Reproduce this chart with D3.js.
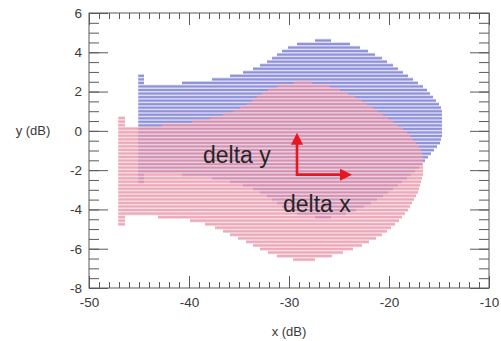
<!DOCTYPE html>
<html>
<head>
<meta charset="utf-8">
<script src="https://cdn.jsdelivr.net/npm/d3@7/dist/d3.min.js"></script>
<style>
  body { margin: 0; background: #fff; }
  svg { display: block; font-family: "Liberation Sans", Arial, Helvetica, sans-serif; }
</style>
</head>
<body>
<svg id="chart" width="501" height="341"></svg>
<script>
// Axis ranges and labelled ticks
const xDomain = [-50, -10];
const yDomain = [-8, 6];
const xMajorTicks = [-50, -40, -30, -20, -10];
const yMajorTicks = [-8, -6, -4, -2, 0, 2, 4, 6];
const xMinorStep = 1;
const yMinorStep = 0.5;

// Height of one histogram row (dB)
const rowHeight = 0.18;

// Blue distribution: row centre (y, dB) with the x range it covers (dB)
const blueRowY = [4.60, 4.42, 4.24, 4.06, 3.88, 3.70, 3.52, 3.34, 3.16, 2.98, 2.80, 2.62, 2.44,
  2.26, 2.08, 1.90, 1.72, 1.54, 1.36, 1.18, 1.00, 0.82, 0.64, 0.46, 0.28, 0.10, -0.08, -0.26,
  -0.44, -0.62, -0.80, -0.98, -1.16, -1.34, -1.52, -1.70, -1.88, -2.06, -2.24, -2.42, -2.60,
  -2.78, -2.96, -3.14, -3.32, -3.50, -3.68, -3.86, -4.04, -4.22, -4.40];
const blueRowX0 = [-27.4, -29.2, -30.1, -30.7, -31.2, -31.7, -32.2, -32.9, -33.6, -34.6, -35.9, -37.7, -40.7,
  -45.07, -45.07, -45.07, -45.07, -45.07, -45.07, -45.07, -45.07, -45.07, -45.07, -45.07, -45.07, -45.07, -45.07, -45.07,
  -45.07, -45.07, -45.07, -45.07, -45.07, -45.07, -45.07, -45.07, -45.07, -45.07, -40.7, -37.7, -35.9,
  -34.6, -33.6, -32.9, -32.2, -31.7, -31.2, -30.7, -30.1, -29.2, -27.4];
const blueRowX1 = [-25.8, -23.9, -22.9, -22.1, -21.4, -20.7, -20.2, -19.6, -19.1, -18.6, -18.1, -17.6, -17.1,
  -16.6, -16.2, -15.9, -15.6, -15.3, -15.0, -14.8, -14.7, -14.7, -14.7, -14.7, -14.7, -14.7, -14.7, -14.7,
  -14.8, -14.9, -15.2, -15.5, -15.8, -16.1, -16.4, -16.7, -17.0, -17.4, -17.8, -18.2, -18.7,
  -19.1, -19.6, -20.1, -20.6, -21.2, -21.8, -22.5, -23.3, -24.3, -25.8];
// Blue first column, taller than the body
const blueStubY = [2.80, 2.62, 2.44, -2.24, -2.42, -2.60];
const blueStubX = [-45.07, -44.5];

// Red distribution: row centre (y, dB) with the x range it covers (dB)
const redRowY = [2.45, 2.27, 2.09, 1.91, 1.73, 1.55, 1.37, 1.19, 1.01, 0.83, 0.65, 0.47, 0.29,
  0.11, -0.07, -0.25, -0.43, -0.61, -0.79, -0.97, -1.15, -1.33, -1.51, -1.69, -1.87, -2.05, -2.23, -2.41,
  -2.59, -2.77, -2.95, -3.13, -3.31, -3.49, -3.67, -3.85, -4.03, -4.21, -4.39, -4.57, -4.75,
  -4.93, -5.11, -5.29, -5.47, -5.65, -5.83, -6.01, -6.19, -6.37, -6.55];
const redRowX0 = [-29.5, -31.2, -32.1, -32.7, -33.2, -33.7, -34.2, -34.9, -35.6, -36.6, -37.9, -39.7, -42.7,
  -47.07, -47.07, -47.07, -47.07, -47.07, -47.07, -47.07, -47.07, -47.07, -47.07, -47.07, -47.07, -47.07, -47.07, -47.07,
  -47.07, -47.07, -47.07, -47.07, -47.07, -47.07, -47.07, -47.07, -47.07, -47.07, -43.1, -39.9, -38.4,
  -37.4, -36.6, -35.9, -35.1, -34.3, -33.6, -32.9, -32.1, -31.2, -29.6];
const redRowX1 = [-27.7, -25.9, -24.9, -24.1, -23.4, -22.7, -22.2, -21.6, -21.1, -20.6, -20.1, -19.6, -19.1,
  -18.6, -18.2, -17.9, -17.6, -17.3, -17.0, -16.8, -16.7, -16.6, -16.6, -16.6, -16.6, -16.6, -16.6, -16.7,
  -16.8, -16.9, -17.0, -17.1, -17.3, -17.5, -17.7, -17.9, -18.1, -18.4, -18.7, -19.0, -19.4,
  -19.8, -20.2, -20.7, -21.3, -22.0, -22.7, -23.6, -24.6, -25.7, -27.4];
// Red first column, taller than the body
const redStubY = [0.65, 0.47, 0.29, -4.39, -4.57, -4.75];
const redStubX = [-47.07, -46.4];

// Shift arrows: common corner, then the tips of the delta y and delta x arrows
const arrowCorner = [-29.2, -2.23];
const deltaYTip = -0.1;
const deltaXTip = -23.7;
const deltaYLabel = { text: "delta y", x: -38.6, y: -1.63 };
const deltaXLabel = { text: "delta x", x: -30.6, y: -4.13 };

const width = 501, height = 341;
const margin = { left: 89, right: 12, top: 13, bottom: 53 };

const svg = d3.select("#chart");
const x = d3.scaleLinear().domain(xDomain).range([margin.left, width - margin.right]);
const y = d3.scaleLinear().domain(yDomain).range([height - margin.bottom, margin.top]);

const plot = svg.append("g");
plot.append("defs").append("clipPath").attr("id", "clip")
  .append("rect")
  .attr("x", x(xDomain[0])).attr("y", y(yDomain[1]))
  .attr("width", x(xDomain[1]) - x(xDomain[0]))
  .attr("height", y(yDomain[0]) - y(yDomain[1]));

function rowsFrom(ys, x0s, x1s) {
  return ys.map((v, i) => ({ y: v, x0: x0s[i], x1: x1s[i] }));
}
function stubsFrom(ys, xs) {
  return ys.map(v => ({ y: v, x0: xs[0], x1: xs[1] }));
}

// Each row: a pale band across the full bin height with a stronger line in its middle
function drawRows(rows, bandColor, lineColor, groupOpacity) {
  const g = plot.append("g").attr("clip-path", "url(#clip)").attr("opacity", groupOpacity);
  const bandH = y(0) - y(rowHeight);
  const lineH = bandH * 0.55;
  g.selectAll("rect.band").data(rows).join("rect")
    .attr("class", "band")
    .attr("x", d => x(d.x0))
    .attr("width", d => x(d.x1) - x(d.x0))
    .attr("y", d => y(d.y) - bandH / 2)
    .attr("height", bandH)
    .attr("fill", bandColor);
  g.selectAll("rect.line").data(rows).join("rect")
    .attr("class", "line")
    .attr("x", d => x(d.x0))
    .attr("width", d => x(d.x1) - x(d.x0))
    .attr("y", d => y(d.y) - lineH / 2)
    .attr("height", lineH)
    .attr("fill", lineColor);
}

const blueRows = rowsFrom(blueRowY, blueRowX0, blueRowX1).concat(stubsFrom(blueStubY, blueStubX));
const redRows = rowsFrom(redRowY, redRowX0, redRowX1).concat(stubsFrom(redStubY, redStubX));

drawRows(blueRows, "#d2d2f1", "#8f91da", 1);
drawRows(redRows, "#f3cad4", "#e892a7", 0.78);

// Axes: ticks point into the frame on all four sides
const tickColor = "#5a5a5a";
const xMinor = d3.range(xDomain[0], xDomain[1] + 0.001, xMinorStep);
const yMinor = d3.range(yDomain[0], yDomain[1] + 0.001, yMinorStep);
const plain = d => String(d);

function styleAxis(g, showLabels) {
  g.select(".domain").remove();
  g.selectAll(".tick line").attr("stroke", tickColor);
  g.selectAll(".tick text")
    .attr("fill", "#3a3a3a")
    .style("font-size", "13.5px")
    .style("font-family", "'Liberation Sans', Arial, sans-serif");
  if (!showLabels) g.selectAll(".tick text").remove();
}

const bottomY = y(yDomain[0]), topY = y(yDomain[1]);
const leftX = x(xDomain[0]), rightX = x(xDomain[1]);

svg.append("g").attr("transform", `translate(0,${bottomY})`)
  .call(d3.axisBottom(x).tickValues(xMinor).tickSize(-6).tickFormat(""))
  .call(g => styleAxis(g, false));
svg.append("g").attr("transform", `translate(0,${bottomY})`)
  .call(d3.axisBottom(x).tickValues(xMajorTicks).tickSize(-12).tickPadding(9).tickFormat(plain))
  .call(g => styleAxis(g, true));
svg.append("g").attr("transform", `translate(0,${topY})`)
  .call(d3.axisTop(x).tickValues(xMinor).tickSize(-6).tickFormat(""))
  .call(g => styleAxis(g, false));
svg.append("g").attr("transform", `translate(0,${topY})`)
  .call(d3.axisTop(x).tickValues(xMajorTicks).tickSize(-12).tickFormat(""))
  .call(g => styleAxis(g, false));

svg.append("g").attr("transform", `translate(${leftX},0)`)
  .call(d3.axisLeft(y).tickValues(yMinor).tickSize(-10).tickFormat(""))
  .call(g => styleAxis(g, false));
svg.append("g").attr("transform", `translate(${leftX},0)`)
  .call(d3.axisLeft(y).tickValues(yMajorTicks).tickSize(-19).tickPadding(7).tickFormat(plain))
  .call(g => styleAxis(g, true));
svg.append("g").attr("transform", `translate(${rightX},0)`)
  .call(d3.axisRight(y).tickValues(yMinor).tickSize(-10).tickFormat(""))
  .call(g => styleAxis(g, false));
svg.append("g").attr("transform", `translate(${rightX},0)`)
  .call(d3.axisRight(y).tickValues(yMajorTicks).tickSize(-19).tickFormat(""))
  .call(g => styleAxis(g, false));

// Frame
svg.append("rect")
  .attr("x", leftX).attr("y", topY)
  .attr("width", rightX - leftX).attr("height", bottomY - topY)
  .attr("fill", "none").attr("stroke", tickColor).attr("stroke-width", 1);

// Axis titles
svg.append("text")
  .attr("x", 33).attr("y", y(0)).attr("dy", "0.35em")
  .attr("text-anchor", "middle")
  .attr("fill", "#3a3a3a").style("font-size", "13px")
  .text("y (dB)");
svg.append("text")
  .attr("x", (leftX + rightX) / 2).attr("y", 336)
  .attr("text-anchor", "middle")
  .attr("fill", "#3a3a3a").style("font-size", "13px")
  .text("x (dB)");

// Shift arrows
const arrowColor = "#e8161e";
const cx = x(arrowCorner[0]), cy = y(arrowCorner[1]);
const tipY = y(deltaYTip), tipX = x(deltaXTip);
const headLen = 12, headHalf = 6;
const arrows = svg.append("g");
arrows.append("path")
  .attr("d", `M${cx},${tipY + headLen - 1} L${cx},${cy} L${tipX - headLen + 1},${cy}`)
  .attr("fill", "none").attr("stroke", arrowColor).attr("stroke-width", 2.6)
  .attr("stroke-linejoin", "miter");
arrows.append("path")
  .attr("d", `M${cx},${tipY} L${cx - headHalf},${tipY + headLen} L${cx + headHalf},${tipY + headLen} Z`)
  .attr("fill", arrowColor);
arrows.append("path")
  .attr("d", `M${tipX},${cy} L${tipX - headLen},${cy - headHalf} L${tipX - headLen},${cy + headHalf} Z`)
  .attr("fill", arrowColor);

// Arrow labels
[deltaYLabel, deltaXLabel].forEach(l => {
  svg.append("text")
    .attr("x", x(l.x)).attr("y", y(l.y))
    .attr("fill", "#262626")
    .style("font-size", "23px")
    .text(l.text);
});
</script>
</body>
</html>
